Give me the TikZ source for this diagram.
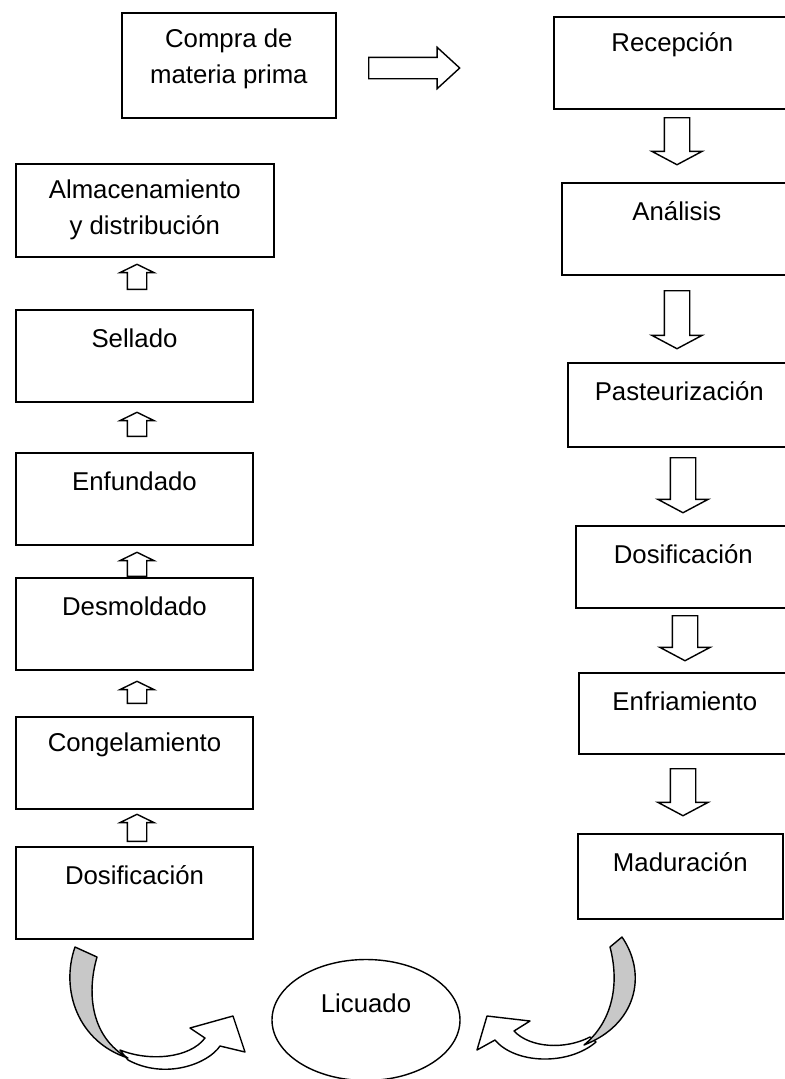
\documentclass[tikz,border=0pt]{standalone}
\usepackage{fontspec}
\setmainfont{Liberation Sans}
\usetikzlibrary{shapes.geometric,shapes.arrows}
\definecolor{Shade}{HTML}{C8C8C8}

\begin{document}
\begin{tikzpicture}[x=0.03cm,y=-0.03cm,
 font=\fontsize{22}{30.5}\selectfont,
 box/.style={draw,line width=1.4pt,inner sep=0pt,anchor=north west},
 txt/.style={anchor=center,align=center,inner sep=0pt,yshift=-0.87cm},
 txtb/.style={anchor=center,align=center,inner sep=0pt,yshift=-1.41cm},
 blk/.style={draw,line width=1.2pt,fill=white,single arrow,inner xsep=0pt,anchor=tail,single arrow head indent=0pt},
 dn/.style={blk,rotate=-90,inner ysep=0.36cm,single arrow head extend=0.375cm,single arrow tip angle=124},
 up/.style={blk,rotate=90,inner ysep=0.27cm,single arrow head extend=0.225cm,single arrow tip angle=128},
 curvearr/.style={line width=1.2pt,line join=round}]
\useasboundingbox (0,0) rectangle (785,1079);

% top row
\node[box,minimum width=6.42cm,minimum height=3.15cm,label={[txtb]north:Compra de\\materia prima}] (comp) at (121,12) {};
\node[blk,minimum height=2.73cm,inner ysep=0.3cm,single arrow head extend=0.3cm,single arrow tip angle=85] (ar0) at (368,68) {};

% right column
\node[box,minimum width=7.11cm,minimum height=2.76cm,label={[txt]north:Recepción}] (rec) at (553,16) {};
\node[box,minimum width=6.9cm,minimum height=2.76cm,label={[txt]north:Análisis}] (ana) at (561,182) {};
\node[box,minimum width=6.69cm,minimum height=2.52cm,label={[txt]north:Pasteurización}] (pas) at (567,362) {};
\node[box,minimum width=6.45cm,minimum height=2.46cm,label={[txt]north:Dosificación}] (dos2) at (575,525) {};
\node[box,minimum width=6.36cm,minimum height=2.43cm,label={[txt]north:Enfriamiento}] (enf) at (578,672) {};
\node[box,minimum width=6.15cm,minimum height=2.55cm,label={[txt]north:Maduración}] (mad) at (577,833) {};
\foreach \x/\y/\l [count=\i] in {677/117/1.41,677/290/1.74,683/457/1.65,685/615/1.35,683/768/1.41}
 \node[dn,minimum height=\l cm] (d\i) at (\x,\y) {};

% left column
\node[box,minimum width=7.74cm,minimum height=2.79cm,label={[txtb]north:Almacenamiento\\y distribución}] (alm) at (15,163) {};
\foreach \n/\y/\t in {sel/309/Sellado,enfu/452/Enfundado,desm/577/Desmoldado,cong/716/Congelamiento,dos1/846/Dosificación}
 \node[box,minimum width=7.12cm,minimum height=2.77cm,label={[txt]north:\t}] (\n) at (15,\y) {};
\foreach \y/\l [count=\i] in {290/0.75,437/0.72,577/0.72,704/0.66,842/0.81}
 \node[up,minimum height=\l cm] (u\i) at (137,\y) {};

% bottom
\node[draw,ellipse,line width=1.2pt,minimum width=5.64cm,minimum height=3.63cm,inner sep=0pt,
 label={[anchor=center,yshift=0.51cm]center:Licuado}] (lic) at (366,1020) {};

% curved arrows into Licuado
\draw[curvearr,fill=white] (120,1050) .. controls (150,1062) and (190,1058) .. (205,1038) -- (190,1028)
 -- (233,1016) -- (245,1052) -- (220,1046) .. controls (208,1064) and (165,1080) .. (128,1060) -- cycle;
\draw[curvearr,fill=Shade] (75,947) -- (97,957) .. controls (86,995) and (92,1038) .. (128,1058)
 .. controls (78,1042) and (60,990) .. (75,947) -- cycle;
\draw[curvearr,fill=white] (590,1037) .. controls (565,1050) and (530,1048) .. (514,1031) -- (530,1021)
 -- (487,1016) -- (477,1050) -- (495,1040) .. controls (515,1064) and (568,1066) .. (596,1042) -- cycle;
\draw[curvearr,fill=Shade] (610,947) -- (622,937) .. controls (648,975) and (636,1025) .. (584,1045)
 .. controls (612,1022) and (620,985) .. (610,947) -- cycle;
\end{tikzpicture}
\end{document}
